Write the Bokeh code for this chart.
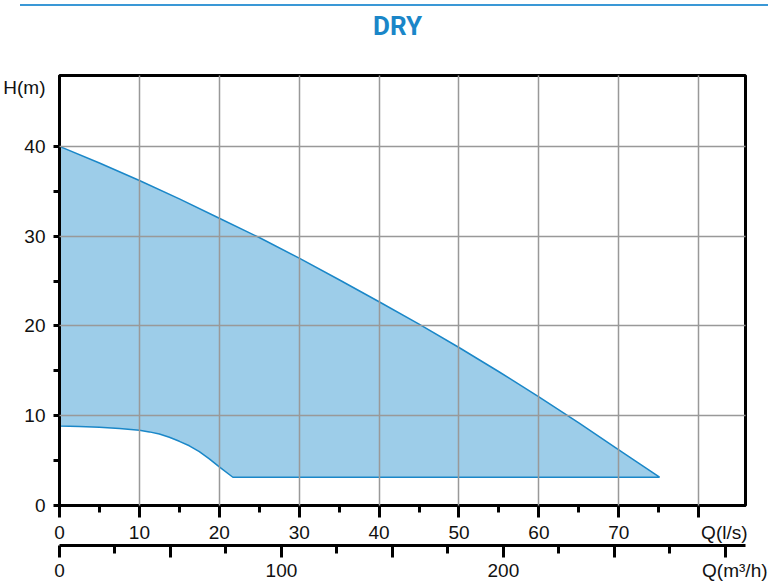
from bokeh.plotting import figure
from bokeh.models import Range1d, LinearAxis, FixedTicker, Div
from bokeh.layouts import column
from bokeh.embed import file_html
from bokeh.resources import INLINE
from bokeh.core.properties import value

# ---- data ----
upper_q = [0, 5, 10, 15, 20, 25, 30, 35, 40, 45, 50, 55, 60, 65, 70, 75.1]
upper_h = [40.0, 38.15, 36.2, 34.15, 32.0, 29.85, 27.55, 25.15, 22.7, 20.2, 17.6, 14.9, 12.1, 9.2, 6.2, 3.15]
lower_q = [0, 2.5, 5, 7.5, 10, 11.25, 12.5, 13.75, 15, 16.25, 17.5, 18.75, 20, 21.7, 75.1]
lower_h = [8.85, 8.8, 8.72, 8.58, 8.38, 8.2, 7.97, 7.6, 7.15, 6.65, 6.0, 5.2, 4.3, 3.15, 3.15]

q_ticks = [0, 10, 20, 30, 40, 50, 60, 70, 80]
q_minor = [5, 15, 25, 35, 45, 55, 65, 75]
m3h_ticks = [0, 50, 100, 150, 200, 250, 300]
m3h_minor = [25, 75, 125, 175, 225, 275]
m3h_labels = [0, 100, 200]
h_ticks = [0, 10, 20, 30, 40]
h_minor = [0, 5, 10, 15, 20, 25, 30, 35, 40]
h_unit_pos = 46.6

title_text = "DRY"
x_unit = "Q(l/s)"
x2_unit = "Q(m³/h)"
y_unit = "H(m)"

FONT = "Liberation Sans"
BLUE_LINE = "#1a87c8"
BLUE_FILL = "#9dcde9"
TITLE_BLUE = "#1a86c8"
RULE_BLUE = "#3a98d6"
TXT = "#111111"

BL, BR = 59, 23          # frame borders (shared by both figures)
W = 768

# ---- top rule ----
RULE_TOP, RULE_H = 4, 2
rule = Div(text="", width=W - 20, height=RULE_H, margin=(RULE_TOP, 0, 0, 20),
           styles={"background-color": RULE_BLUE})

# ---- header (title), y axis flipped so values are pixels from page top ----
HTOP = RULE_TOP + RULE_H
HB = 50
hdr = figure(width=W, height=HB - HTOP, x_range=Range1d(BL, W - BR), y_range=Range1d(HB, HTOP),
             output_backend="svg", toolbar_location=None,
             x_axis_location=None, y_axis_location=None,
             min_border_left=BL, min_border_right=BR, min_border_top=0, min_border_bottom=0)
hdr.grid.visible = False
hdr.outline_line_color = None
hdr.text(x=[397], y=[25.5], text=[title_text], text_font=value("Roboto"),
         text_font_style="bold", text_font_size="26px", text_color=TITLE_BLUE,
         text_align="center", text_baseline="middle")

# ---- main chart ----
x_end = 85.86
p = figure(width=W, height=583 - HB, x_range=Range1d(0, x_end), y_range=Range1d(0, 47.9),
           output_backend="svg", toolbar_location=None,
           min_border_left=BL, min_border_right=BR, min_border_top=75 - HB, min_border_bottom=78)
p.outline_line_color = "black"
p.outline_line_width = 3

poly_x = upper_q + lower_q[::-1]
poly_y = upper_h + lower_h[::-1]
p.patch(poly_x, poly_y, fill_color=BLUE_FILL, line_color=BLUE_LINE, line_width=1.5)

# grid on top of the area
for g, ticks in ((p.xgrid, q_ticks[1:]), (p.ygrid, h_ticks[1:])):
    g.ticker = FixedTicker(ticks=ticks)
    g.grid_line_color = "#999999"
    g.grid_line_width = 1.5
    g.level = "annotation"

def style_axis(ax, tick_out, minor_out, standoff):
    ax.axis_line_width = 3
    ax.axis_line_color = "black"
    ax.major_tick_in = 0
    ax.minor_tick_in = 0
    ax.major_tick_out = tick_out
    ax.minor_tick_out = minor_out
    ax.major_tick_line_width = 3
    ax.minor_tick_line_width = 3
    ax.major_label_standoff = standoff
    ax.major_label_text_font = FONT
    ax.major_label_text_font_size = "19px"
    ax.major_label_text_color = TXT

# Q (l/s) axis
xa = p.xaxis[0]
xa.ticker = FixedTicker(ticks=q_ticks, minor_ticks=q_minor)
xa.major_label_overrides = {80: "\u2003\u2003\u2002\u2009" + x_unit}
style_axis(xa, 12, 7, 4)

# H (m) axis: all tick marks drawn as (equal length) minor ticks, unit as a label
ya = p.yaxis[0]
ya.ticker = FixedTicker(ticks=h_ticks + [h_unit_pos], minor_ticks=h_minor)
ya.major_label_overrides = {h_unit_pos: y_unit}
style_axis(ya, 6, 6, 8)
ya.major_tick_line_color = None

# Q (m3/h) axis
p.extra_x_ranges = {"m3h": Range1d(0, x_end * 3.6)}
xa2 = LinearAxis(x_range_name="m3h", ticker=FixedTicker(ticks=m3h_ticks, minor_ticks=m3h_minor))
ov = {t: "" for t in m3h_ticks if t not in m3h_labels}
ov[300] = "\u2003" + x2_unit
xa2.major_label_overrides = ov
style_axis(xa2, 12, 8, 2)
p.add_layout(xa2, "below")

layout = column(rule, hdr, p)
open("out.html", "w").write(file_html(layout, INLINE))
